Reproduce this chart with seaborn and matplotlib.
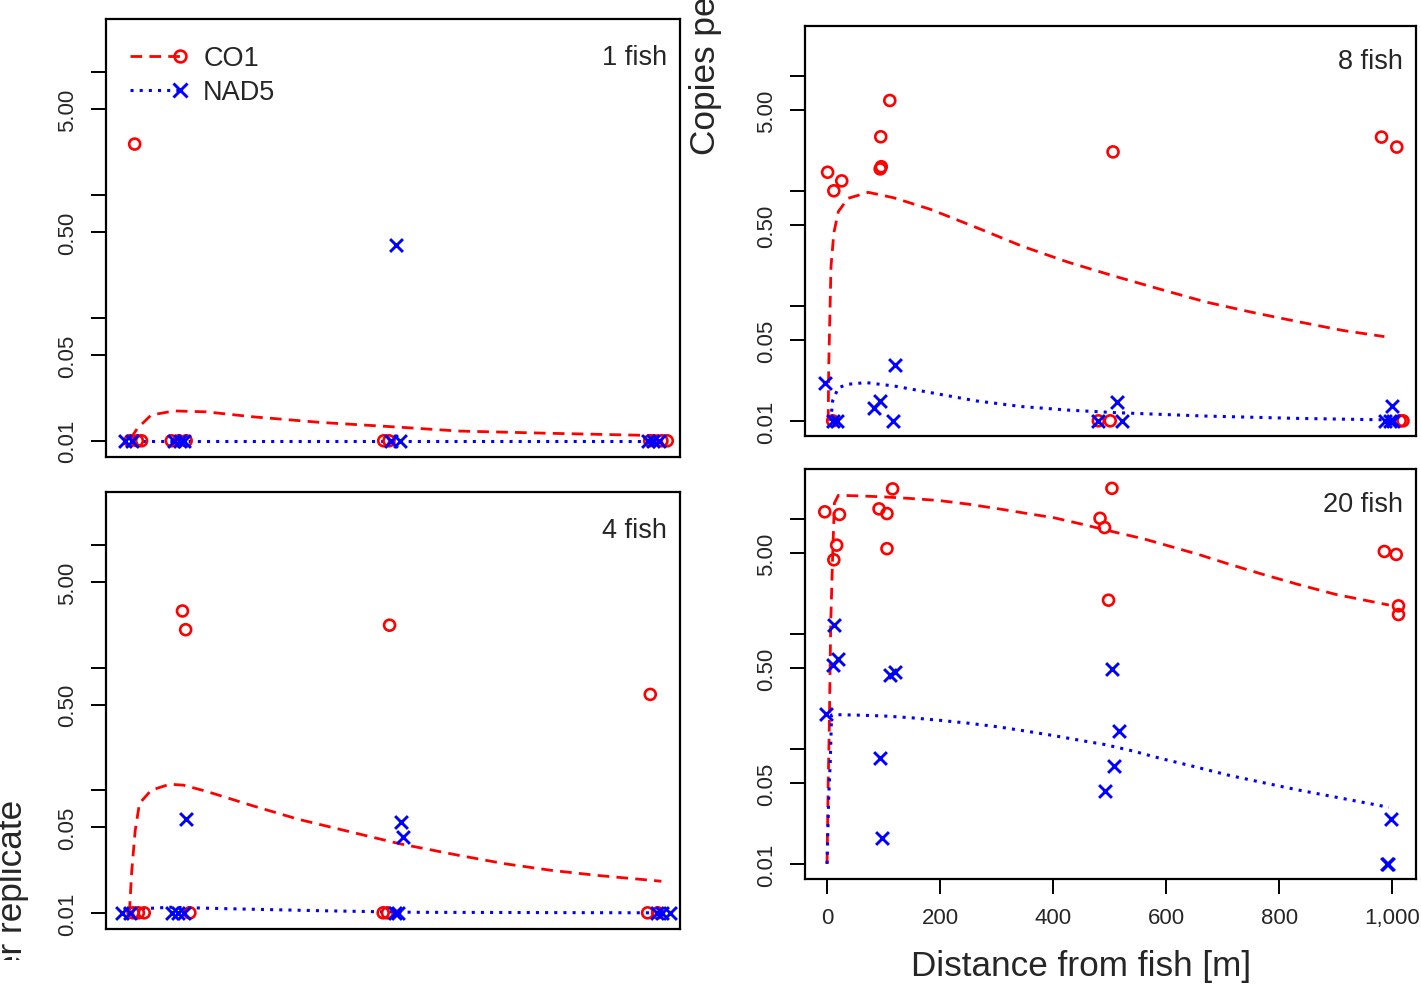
import numpy as np
import pandas as pd
import matplotlib
matplotlib.use("Agg")
import matplotlib.pyplot as plt
import seaborn as sns
from matplotlib.lines import Line2D
from matplotlib.legend_handler import HandlerLine2D
from matplotlib.transforms import Bbox, TransformedBbox

# ---------------- data ----------------
# 1 fish
fish1_co1_dist = [15, 6, 20, 28, 84, 98, 112, 484, 494, 985, 1008, 1018]
fish1_co1_copies = [2.6, 0.01, 0.01, 0.01, 0.01, 0.01, 0.01, 0.01, 0.01, 0.01, 0.01, 0.01]
fish1_nad5_dist = [507, -3, 10, 90, 100, 108, 498, 515, 982, 992, 1002]
fish1_nad5_copies = [0.39, 0.01, 0.01, 0.01, 0.01, 0.01, 0.01, 0.01, 0.01, 0.01, 0.01]
fish1_co1_fit_dist = [7, 20, 46, 89, 150, 236, 366, 514, 626, 800, 1007]
fish1_co1_fit = [0.0104, 0.0126, 0.0162, 0.0175, 0.0172, 0.0157, 0.0141, 0.0129, 0.0120, 0.0115, 0.0110]
fish1_nad5_fit_dist = [-5, 100, 500, 1010]
fish1_nad5_fit = [0.0100, 0.0100, 0.0100, 0.0100]

# 4 fish
fish4_co1_dist = [105, 111, 495, 986, 12, 22, 33, 119, 483, 491, 981, 1000]
fish4_co1_copies = [2.9, 2.04, 2.22, 0.605, 0.01, 0.01, 0.01, 0.01, 0.01, 0.01, 0.01, 0.01]
fish4_nad5_dist = [112, 516, 520, -9, 6, 85, 97, 108, 505, 511, 998, 1008, 1023]
fish4_nad5_copies = [0.058, 0.055, 0.0415, 0.01, 0.01, 0.01, 0.01, 0.01, 0.01, 0.01, 0.01, 0.01, 0.01]
fish4_co1_fit_dist = [5, 9.5, 16, 24, 46, 81, 107, 150, 236, 323, 410, 514, 626, 713, 800, 886, 1007]
fish4_co1_fit = [0.0100, 0.022, 0.047, 0.078, 0.100, 0.112, 0.110, 0.098, 0.075, 0.058, 0.047,
                 0.0366, 0.0294, 0.0251, 0.0222, 0.0202, 0.0181]
fish4_nad5_fit_dist = [-6, 81, 193, 366, 540, 1007]
fish4_nad5_fit = [0.0106, 0.0111, 0.0108, 0.0104, 0.0101, 0.0100]

# 8 fish
fish8_co1_dist = [1, 12, 26, 95, 94, 96, 111, 506, 981, 1008, 10, 480, 501, 1014, 1019]
fish8_co1_copies = [1.45, 1.0, 1.22, 2.95, 1.55, 1.62, 6.1, 2.18, 2.93, 2.4, 0.01, 0.01, 0.01, 0.01, 0.01]
fish8_nad5_dist = [-4, 83, 94, 120, 513, 1000, 11, 17, 117, 480, 522, 988, 996, 1002]
fish8_nad5_copies = [0.0215, 0.0128, 0.0148, 0.0305, 0.0147, 0.0135, 0.01, 0.01, 0.01, 0.01, 0.01, 0.01, 0.01, 0.01]
fish8_co1_fit_dist = [2, 3, 7, 12, 20, 37, 73, 118, 183, 264, 345, 426, 507, 588, 670, 751, 832, 913, 986]
fish8_co1_fit = [0.0100, 0.030, 0.22, 0.43, 0.66, 0.86, 0.97, 0.87, 0.69, 0.48, 0.33, 0.240, 0.182,
                 0.140, 0.108, 0.088, 0.073, 0.061, 0.054]
fish8_nad5_fit_dist = [6.5, 10, 20, 37, 69, 118, 183, 264, 345, 426, 507, 670, 832, 986]
fish8_nad5_fit = [0.0100, 0.0150, 0.0194, 0.0208, 0.0215, 0.0201, 0.0176, 0.0149, 0.0133, 0.0124,
                  0.0118, 0.0110, 0.0105, 0.0102]

# 20 fish
fish20_co1_dist = [-4, 22, 17, 12, 92, 106, 116, 106, 483, 491, 504, 498, 986, 1007, 1011, 1011]
fish20_co1_copies = [11.5, 10.9, 5.9, 4.4, 12.2, 11.1, 18.2, 5.5, 10.1, 8.4, 18.4, 1.96, 5.2, 4.9, 1.75, 1.47]
fish20_nad5_dist = [12, 11, 19, -2, 93, 97, 111, 121, 504, 517, 507, 491, 998, 990, 993]
fish20_nad5_copies = [1.19, 0.54, 0.60, 0.20, 0.083, 0.0168, 0.44, 0.47, 0.49, 0.142, 0.071, 0.0426,
                      0.0246, 0.01, 0.01]
fish20_co1_fit_dist = [0, 2, 4, 6.5, 10, 13, 20, 60, 101, 150, 199, 250, 304, 350, 402, 450, 507, 560,
                       605, 660, 710, 770, 832, 900, 994]
fish20_co1_fit = [0.0100, 0.05, 0.155, 1.23, 4.9, 13.7, 16.0, 15.8, 15.5, 15.0, 14.4, 13.4, 12.2, 11.2,
                  10.2, 9.0, 7.7, 6.7, 5.8, 4.85, 4.05, 3.3, 2.7, 2.2, 1.78]
fish20_nad5_fit_dist = [0, 3, 5.7, 8, 20, 60, 101, 150, 199, 250, 304, 350, 402, 450, 491, 540, 588,
                        650, 710, 770, 832, 900, 994]
fish20_nad5_fit = [0.0100, 0.0385, 0.077, 0.197, 0.198, 0.196, 0.193, 0.186, 0.177, 0.167, 0.155,
                   0.143, 0.130, 0.118, 0.109, 0.096, 0.083, 0.070, 0.059, 0.051, 0.044, 0.038, 0.031]

panel_labels = ["1 fish", "4 fish", "8 fish", "20 fish"]
series_labels = ["CO1", "NAD5"]
y_ticks = [0.01, 0.05, 0.1, 0.5, 1, 5, 10]
y_tick_labels = ["0.01", "0.05", "", "0.50", "", "5.00", ""]
x_ticks = [0, 200, 400, 600, 800, 1000]
x_tick_labels = ["0", "200", "400", "600", "800", "1,000"]
x_label = "Distance from fish [m]"
y_label = "Copies per replicate"

# ---------------- style ----------------
sns.set_style("ticks")
plt.rcParams['font.family'] = ['Liberation Sans', 'DejaVu Sans']

RED = "#FF0000"
BLUE = "#0000FF"
DASH = (0, (4.2, 2.6))
DOT = (0, (1, 2.0))
LW_RED = 2.0
LW_BLUE = 2.2

W, H = 1421, 995
fig = plt.figure(figsize=(W / 100, H / 100), dpi=100)


def frac_axes(left, right, top, bottom):
    return fig.add_axes([left / W, (H - bottom) / H, (right - left) / W, (bottom - top) / H])


ax1 = frac_axes(106, 680, 20, 458)
ax4 = frac_axes(106, 680, 493, 930)
ax8 = frac_axes(805, 1416, 27, 437)
ax20 = frac_axes(805, 1416, 470, 880)

panels = [
    (ax1, fish1_co1_dist, fish1_co1_copies, fish1_nad5_dist, fish1_nad5_copies,
     fish1_co1_fit_dist, fish1_co1_fit, fish1_nad5_fit_dist, fish1_nad5_fit),
    (ax4, fish4_co1_dist, fish4_co1_copies, fish4_nad5_dist, fish4_nad5_copies,
     fish4_co1_fit_dist, fish4_co1_fit, fish4_nad5_fit_dist, fish4_nad5_fit),
    (ax8, fish8_co1_dist, fish8_co1_copies, fish8_nad5_dist, fish8_nad5_copies,
     fish8_co1_fit_dist, fish8_co1_fit, fish8_nad5_fit_dist, fish8_nad5_fit),
    (ax20, fish20_co1_dist, fish20_co1_copies, fish20_nad5_dist, fish20_nad5_copies,
     fish20_co1_fit_dist, fish20_co1_fit, fish20_nad5_fit_dist, fish20_nad5_fit),
]

for (ax, cx, cy, nx, ny, cfx, cfy, nfx, nfy), lab in zip(panels, panel_labels):
    ax.set_yscale("log")
    sns.lineplot(x=cfx, y=cfy, ax=ax, color=RED, linestyle=DASH, linewidth=LW_RED,
                 estimator=None, sort=False)
    sns.lineplot(x=nfx, y=nfy, ax=ax, color=BLUE, linestyle=DOT, linewidth=LW_BLUE,
                 estimator=None, sort=False)
    sns.scatterplot(x=cx, y=cy, ax=ax, marker="o", s=62, facecolor="none",
                    edgecolor=RED, linewidth=1.9, zorder=3)
    sns.scatterplot(x=nx, y=ny, ax=ax, marker="x", s=85, color=BLUE,
                    linewidth=2.1, zorder=3)
    ax.set_xlim(-39, 1042)
    ax.set_ylim(0.00738, 27.1)
    ax.minorticks_off()
    ax.set_yticks(y_ticks)
    ax.set_yticklabels(y_tick_labels, rotation=90, va="center", fontsize=16)
    ax.tick_params(axis="y", length=11, width=1.4, pad=9, color="black")
    ax.set_xlabel("")
    ax.set_ylabel("")
    for sp in ax.spines.values():
        sp.set_linewidth(1.6)
        sp.set_color("black")
    ax.text(0.978, 0.914, lab, transform=ax.transAxes, ha="right", va="center", fontsize=19.5)
    if ax is ax20:
        ax.set_xticks(x_ticks)
        ax.set_xticklabels(x_tick_labels, fontsize=16)
        ax.tick_params(axis="x", length=11, width=1.4, pad=9, color="black")
    else:
        ax.set_xticks([])


# legend with the marker at the right end of the line sample
class EndMarkerHandler(HandlerLine2D):
    def create_artists(self, legend, orig_handle, xdescent, ydescent, width, height, fontsize, trans):
        y = (height - ydescent) / 2
        x0, x1 = -xdescent, -xdescent + width
        line = Line2D([x0, x1], [y, y])
        line.update_from(orig_handle)
        line.set_marker("None")
        line.set_markevery(None)
        mk = Line2D([x1], [y])
        mk.update_from(orig_handle)
        mk.set_linestyle("None")
        mk.set_markevery(None)
        line.set_transform(trans)
        mk.set_transform(trans)
        return [line, mk]


h_co1 = Line2D([], [], color=RED, linestyle=DASH, linewidth=LW_RED, marker="o", markersize=8.5,
               markerfacecolor="none", markeredgecolor=RED, markeredgewidth=1.9)
h_nad5 = Line2D([], [], color=BLUE, linestyle=DOT, linewidth=LW_BLUE, marker="x", markersize=9.5,
                markeredgecolor=BLUE, markeredgewidth=2.1)
ax1.legend([h_co1, h_nad5], series_labels, handler_map={Line2D: EndMarkerHandler()},
           loc="upper left", bbox_to_anchor=(0.042, 0.94), frameon=False, fontsize=19.5,
           handlelength=1.85, handletextpad=0.85, labelspacing=0.3, borderpad=0,
           borderaxespad=0)

# axis titles (the reference shows the y title split and cut at the edges)
fig.text(1081 / W, (H - 967) / H, x_label, ha="center", va="center", fontsize=25.3)
fig.text(706 / W, (H - 155) / H, y_label, rotation=90, ha="center", va="bottom", fontsize=25.3)
t2 = fig.text(13 / W, (H - 800) / H, y_label, rotation=90, ha="center", va="top", fontsize=25.3)
t2.set_clip_on(True)
t2.set_clip_box(TransformedBbox(Bbox([[0, 34 / H], [0.06, 1]]), fig.transFigure))

fig.savefig("out.png", dpi=100)
